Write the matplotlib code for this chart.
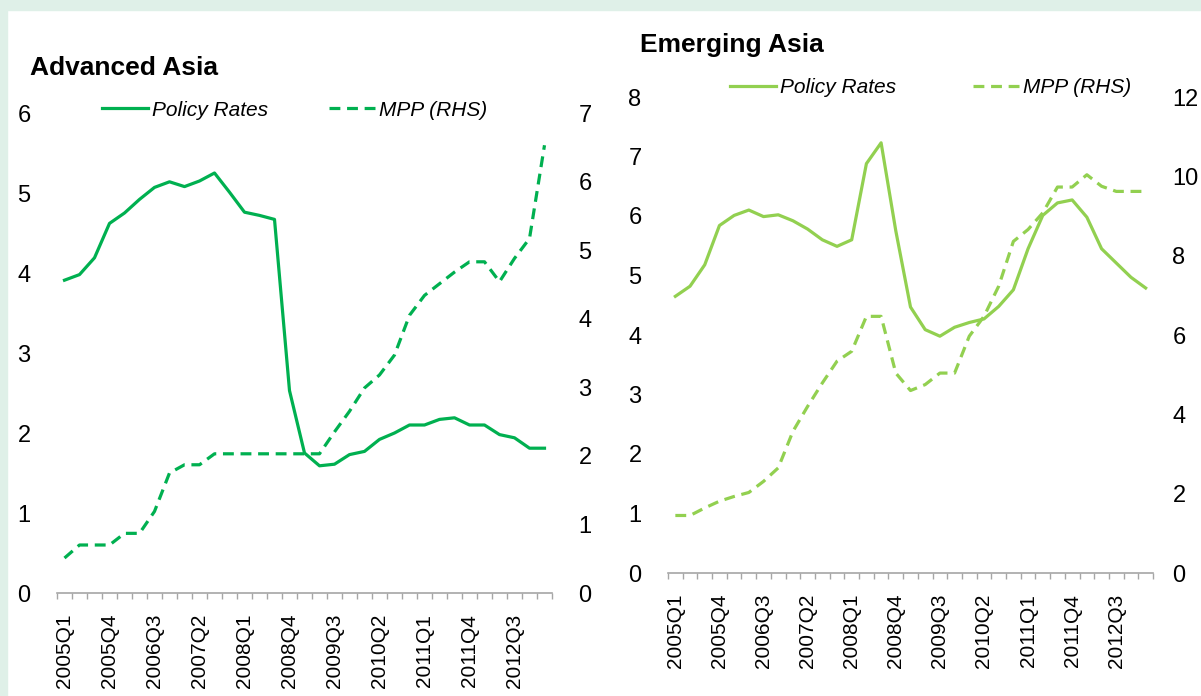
import matplotlib
matplotlib.use('Agg')
import matplotlib.pyplot as plt
from matplotlib.patches import Rectangle

plt.rcParams['font.family'] = ['Liberation Sans', 'DejaVu Sans']

# quarters 2005Q1 .. 2013Q1
quarters = [f"{y}Q{q}" for y in range(2005, 2014) for q in range(1, 5)][:33]

adv_policy = [3.91, 3.98, 4.19, 4.62, 4.75, 4.92, 5.07, 5.14, 5.08, 5.15, 5.25,
              5.01, 4.76, 4.72, 4.67, 2.53, 1.75, 1.59, 1.61, 1.73, 1.77, 1.92,
              2.00, 2.10, 2.10, 2.17, 2.19, 2.10, 2.10, 1.98, 1.94, 1.81, 1.81]
adv_mpp = [0.51, 0.70, 0.70, 0.70, 0.87, 0.87, 1.19, 1.75, 1.87, 1.87, 2.03,
           2.03, 2.03, 2.03, 2.03, 2.03, 2.03, 2.03, 2.35, 2.65, 2.99, 3.18,
           3.47, 4.05, 4.34, 4.51, 4.68, 4.83, 4.83, 4.54, 4.88, 5.17, 6.53]

em_policy = [4.65, 4.82, 5.18, 5.84, 6.01, 6.10, 5.99, 6.02, 5.92, 5.78, 5.60,
             5.49, 5.60, 6.88, 7.23, 5.75, 4.47, 4.09, 3.98, 4.13, 4.21, 4.27,
             4.48, 4.76, 5.45, 6.01, 6.22, 6.27, 5.98, 5.45, 5.21, 4.97, 4.79]
em_mpp = [1.45, 1.45, 1.64, 1.81, 1.93, 2.03, 2.31, 2.65, 3.57, 4.20, 4.79,
          5.34, 5.59, 6.47, 6.47, 5.04, 4.60, 4.75, 5.04, 5.04, 5.97, 6.47,
          7.23, 8.36, 8.66, 9.08, 9.73, 9.73, 10.04, 9.75, 9.62, 9.62, 9.62]

panels = [
    dict(title="Advanced Asia", policy=adv_policy, mpp=adv_mpp, color='#00b050',
         rect=[57/1201, 103/696, 495/1201, 480/696], ylim=(0, 6), y2lim=(0, 7),
         y2ticks=range(0, 8), title_xy=(30/1201, 1 - 68/696),
         leg_xy=(0.48, 1.006), colspace=2.9, pad2=19),
    dict(title="Emerging Asia", policy=em_policy, mpp=em_mpp, color='#92d050',
         rect=[668/1201, 123/696, 485/1201, 476/696], ylim=(0, 8), y2lim=(0, 12),
         y2ticks=range(0, 13, 2), title_xy=(640/1201, 1 - 45/696),
         leg_xy=(0.542, 1.019), colspace=3.7, pad2=14),
]

fig = plt.figure(figsize=(12.01, 6.96), dpi=100)

# light green frame from the source page
fig.patches.append(Rectangle((0, 1 - 10/696), 1, 10/696, transform=fig.transFigure,
                             color='#dff0e8', zorder=0))
fig.patches.append(Rectangle((0, 0), 7/1201, 1, transform=fig.transFigure,
                             color='#dff0e8', zorder=0))

x = list(range(len(quarters)))

for p in panels:
    ax = fig.add_axes(p['rect'])
    ax2 = ax.twinx()
    ax.set_zorder(ax2.get_zorder() + 1)
    ax.patch.set_visible(False)

    l1, = ax.plot(x, p['policy'], color=p['color'], lw=2.3)
    l2, = ax2.plot(x, p['mpp'], color=p['color'], lw=2.3, dashes=(3.4, 2.1))

    ax.set_xlim(-0.5, len(quarters) - 0.5)
    ax.set_ylim(*p['ylim'])
    ax2.set_ylim(*p['y2lim'])
    ax2.set_yticks(list(p['y2ticks']))

    for a in (ax, ax2):
        for s in a.spines.values():
            s.set_visible(False)
    ax.tick_params(axis='y', length=0, labelsize=17, pad=19)
    ax2.tick_params(axis='y', length=0, labelsize=17, pad=p['pad2'])
    ax.spines['bottom'].set_visible(True)
    ax.spines['bottom'].set_color('#a6a6a6')
    ax.spines['bottom'].set_linewidth(1.2)

    ax.set_xticks(x[::3])
    ax.set_xticklabels(quarters[::3], rotation=90, fontsize=15)
    ax.tick_params(axis='x', which='major', length=0, pad=15)
    ax.set_xticks([i - 0.5 for i in range(len(quarters) + 1)], minor=True)
    ax.tick_params(axis='x', which='minor', length=4, color='#a6a6a6', width=1)

    ax.legend([l1, l2], ['Policy Rates', 'MPP (RHS)'], loc='center',
              bbox_to_anchor=p['leg_xy'], ncol=2, frameon=False,
              prop=dict(style='italic', size=15), handlelength=2.2,
              handletextpad=0.2, columnspacing=p['colspace'])

    fig.text(p['title_xy'][0], p['title_xy'][1], p['title'], fontsize=19,
             fontweight='bold', va='center', ha='left')

fig.savefig('out.png', dpi=100)
